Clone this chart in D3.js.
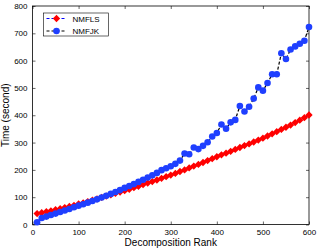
<!DOCTYPE html>
<html>
<head>
<meta charset="utf-8">
<script src="https://cdn.jsdelivr.net/npm/d3@7"></script>
<style>
  body { margin: 0; background: #fff; }
  text { font-family: "Liberation Sans", Arial, sans-serif; }
</style>
</head>
<body>
<svg width="319" height="249"></svg>
<script>
// Decomposition ranks (x values)
var ranks = [10,20,30,40,50,60,70,80,90,100,110,120,130,140,150,160,170,180,190,200,
  210,220,230,240,250,260,270,280,290,300,310,320,330,340,350,360,370,380,390,400,
  410,420,430,440,450,460,470,480,490,500,510,520,530,540,550,560,570,580,590,600];

// Time in seconds
var nmfls = [40,43,47,50,54,58,62,66,70,75,79,84,89,94,99,104,109,114,119,124,
  129,135,140,146,152,157,163,169,175,181,187,194,200,207,214,220,227,234,241,248,
  255,261,268,275,282,289,295,302,309,316,324,332,340,348,356,364,373,382,391,401];

var nmfjk = [8,24,29,35,40,46,51,57,63,69,74,80,86,92,99,105,112,119,126,134,
  141,148,156,164,172,180,189,199,206,213,222,234,260,257,282,276,288,301,322,335,
  366,351,374,383,434,414,431,461,502,490,518,550,550,627,606,641,652,662,673,723];

var xTicks = [0,100,200,300,400,500,600];
var yTicks = [0,100,200,300,400,500,600,700,800];

var margin = {top: 6, right: 10, bottom: 24.5, left: 32.5},
    width = 319 - margin.left - margin.right,
    height = 249 - margin.top - margin.bottom;

var svg = d3.select("svg")
  .append("g")
    .attr("transform", "translate(" + margin.left + "," + margin.top + ")");

var x = d3.scaleLinear().domain([0, 600]).range([0, width]);
var y = d3.scaleLinear().domain([0, 800]).range([height, 0]);

// Axes, MATLAB style: ticks pointing inward on all four sides
function styleAxis(g) {
  g.select(".domain").remove();
  g.selectAll("line").attr("stroke", "#000").attr("stroke-width", 0.6);
  g.selectAll("text").attr("font-size", 8).attr("fill", "#000");
}

svg.append("g")
    .attr("transform", "translate(0," + height + ")")
    .call(d3.axisBottom(x).tickValues(xTicks).tickSize(-3).tickPadding(5))
    .call(styleAxis);

svg.append("g")
    .call(d3.axisLeft(y).tickValues(yTicks).tickSize(-3).tickPadding(5))
    .call(styleAxis);

svg.append("g")
    .call(d3.axisTop(x).tickValues(xTicks).tickSize(-3).tickFormat(""))
    .call(styleAxis);

svg.append("g")
    .attr("transform", "translate(" + width + ",0)")
    .call(d3.axisRight(y).tickValues(yTicks).tickSize(-3).tickFormat(""))
    .call(styleAxis);

svg.append("rect")
    .attr("width", width)
    .attr("height", height)
    .attr("fill", "none")
    .attr("stroke", "#000")
    .attr("stroke-width", 0.8);

var line = d3.line()
    .x(function(d) { return x(d[0]); })
    .y(function(d) { return y(d[1]); });

var lsData = ranks.map(function(r, i) { return [r, nmfls[i]]; });
var jkData = ranks.map(function(r, i) { return [r, nmfjk[i]]; });

var diamond = d3.symbol().type(d3.symbolDiamond2).size(34);

// NMFLS: blue dashed line, red diamonds
svg.append("path")
    .datum(lsData)
    .attr("d", line)
    .attr("fill", "none")
    .attr("stroke", "#0000ff")
    .attr("stroke-width", 1)
    .attr("stroke-dasharray", "3,2");

svg.selectAll(".ls")
    .data(lsData)
  .enter().append("path")
    .attr("class", "ls")
    .attr("transform", function(d) { return "translate(" + x(d[0]) + "," + y(d[1]) + ")"; })
    .attr("d", diamond)
    .attr("fill", "#ff0000");

// NMFJK: black dashed line, blue circles
svg.append("path")
    .datum(jkData)
    .attr("d", line)
    .attr("fill", "none")
    .attr("stroke", "#000")
    .attr("stroke-width", 1.2)
    .attr("stroke-dasharray", "3,2");

svg.selectAll(".jk")
    .data(jkData)
  .enter().append("circle")
    .attr("class", "jk")
    .attr("cx", function(d) { return x(d[0]); })
    .attr("cy", function(d) { return y(d[1]); })
    .attr("r", 3.3)
    .attr("fill", "#1f3fff");

// Axis titles
svg.append("text")
    .attr("x", width / 2)
    .attr("y", height + 21)
    .attr("text-anchor", "middle")
    .attr("font-size", 10)
    .text("Decomposition Rank");

svg.append("text")
    .attr("transform", "translate(-24," + (height / 2) + ") rotate(-90)")
    .attr("text-anchor", "middle")
    .attr("font-size", 10)
    .text("Time (second)");

// Legend
var legend = svg.append("g").attr("transform", "translate(11,7)");

legend.append("rect")
    .attr("width", 65)
    .attr("height", 23)
    .attr("fill", "#fff")
    .attr("stroke", "#000")
    .attr("stroke-width", 0.6);

var items = [
  {name: "NMFLS", line: "#0000ff", mark: "diamond", color: "#ff0000"},
  {name: "NMFJK", line: "#000", mark: "circle", color: "#1f3fff"}
];

items.forEach(function(it, i) {
  var yy = 5.5 + i * 12.5;
  legend.append("line")
      .attr("x1", 3).attr("x2", 23)
      .attr("y1", yy).attr("y2", yy)
      .attr("stroke", it.line)
      .attr("stroke-width", 1.2)
      .attr("stroke-dasharray", "3,2");
  if (it.mark === "diamond") {
    legend.append("path")
        .attr("transform", "translate(13," + yy + ")")
        .attr("d", diamond)
        .attr("fill", it.color);
  } else {
    legend.append("circle")
        .attr("cx", 13).attr("cy", yy).attr("r", 3.3)
        .attr("fill", it.color);
  }
  legend.append("text")
      .attr("x", 29)
      .attr("y", yy + 3)
      .attr("font-size", 8)
      .text(it.name);
});
</script>
</body>
</html>
